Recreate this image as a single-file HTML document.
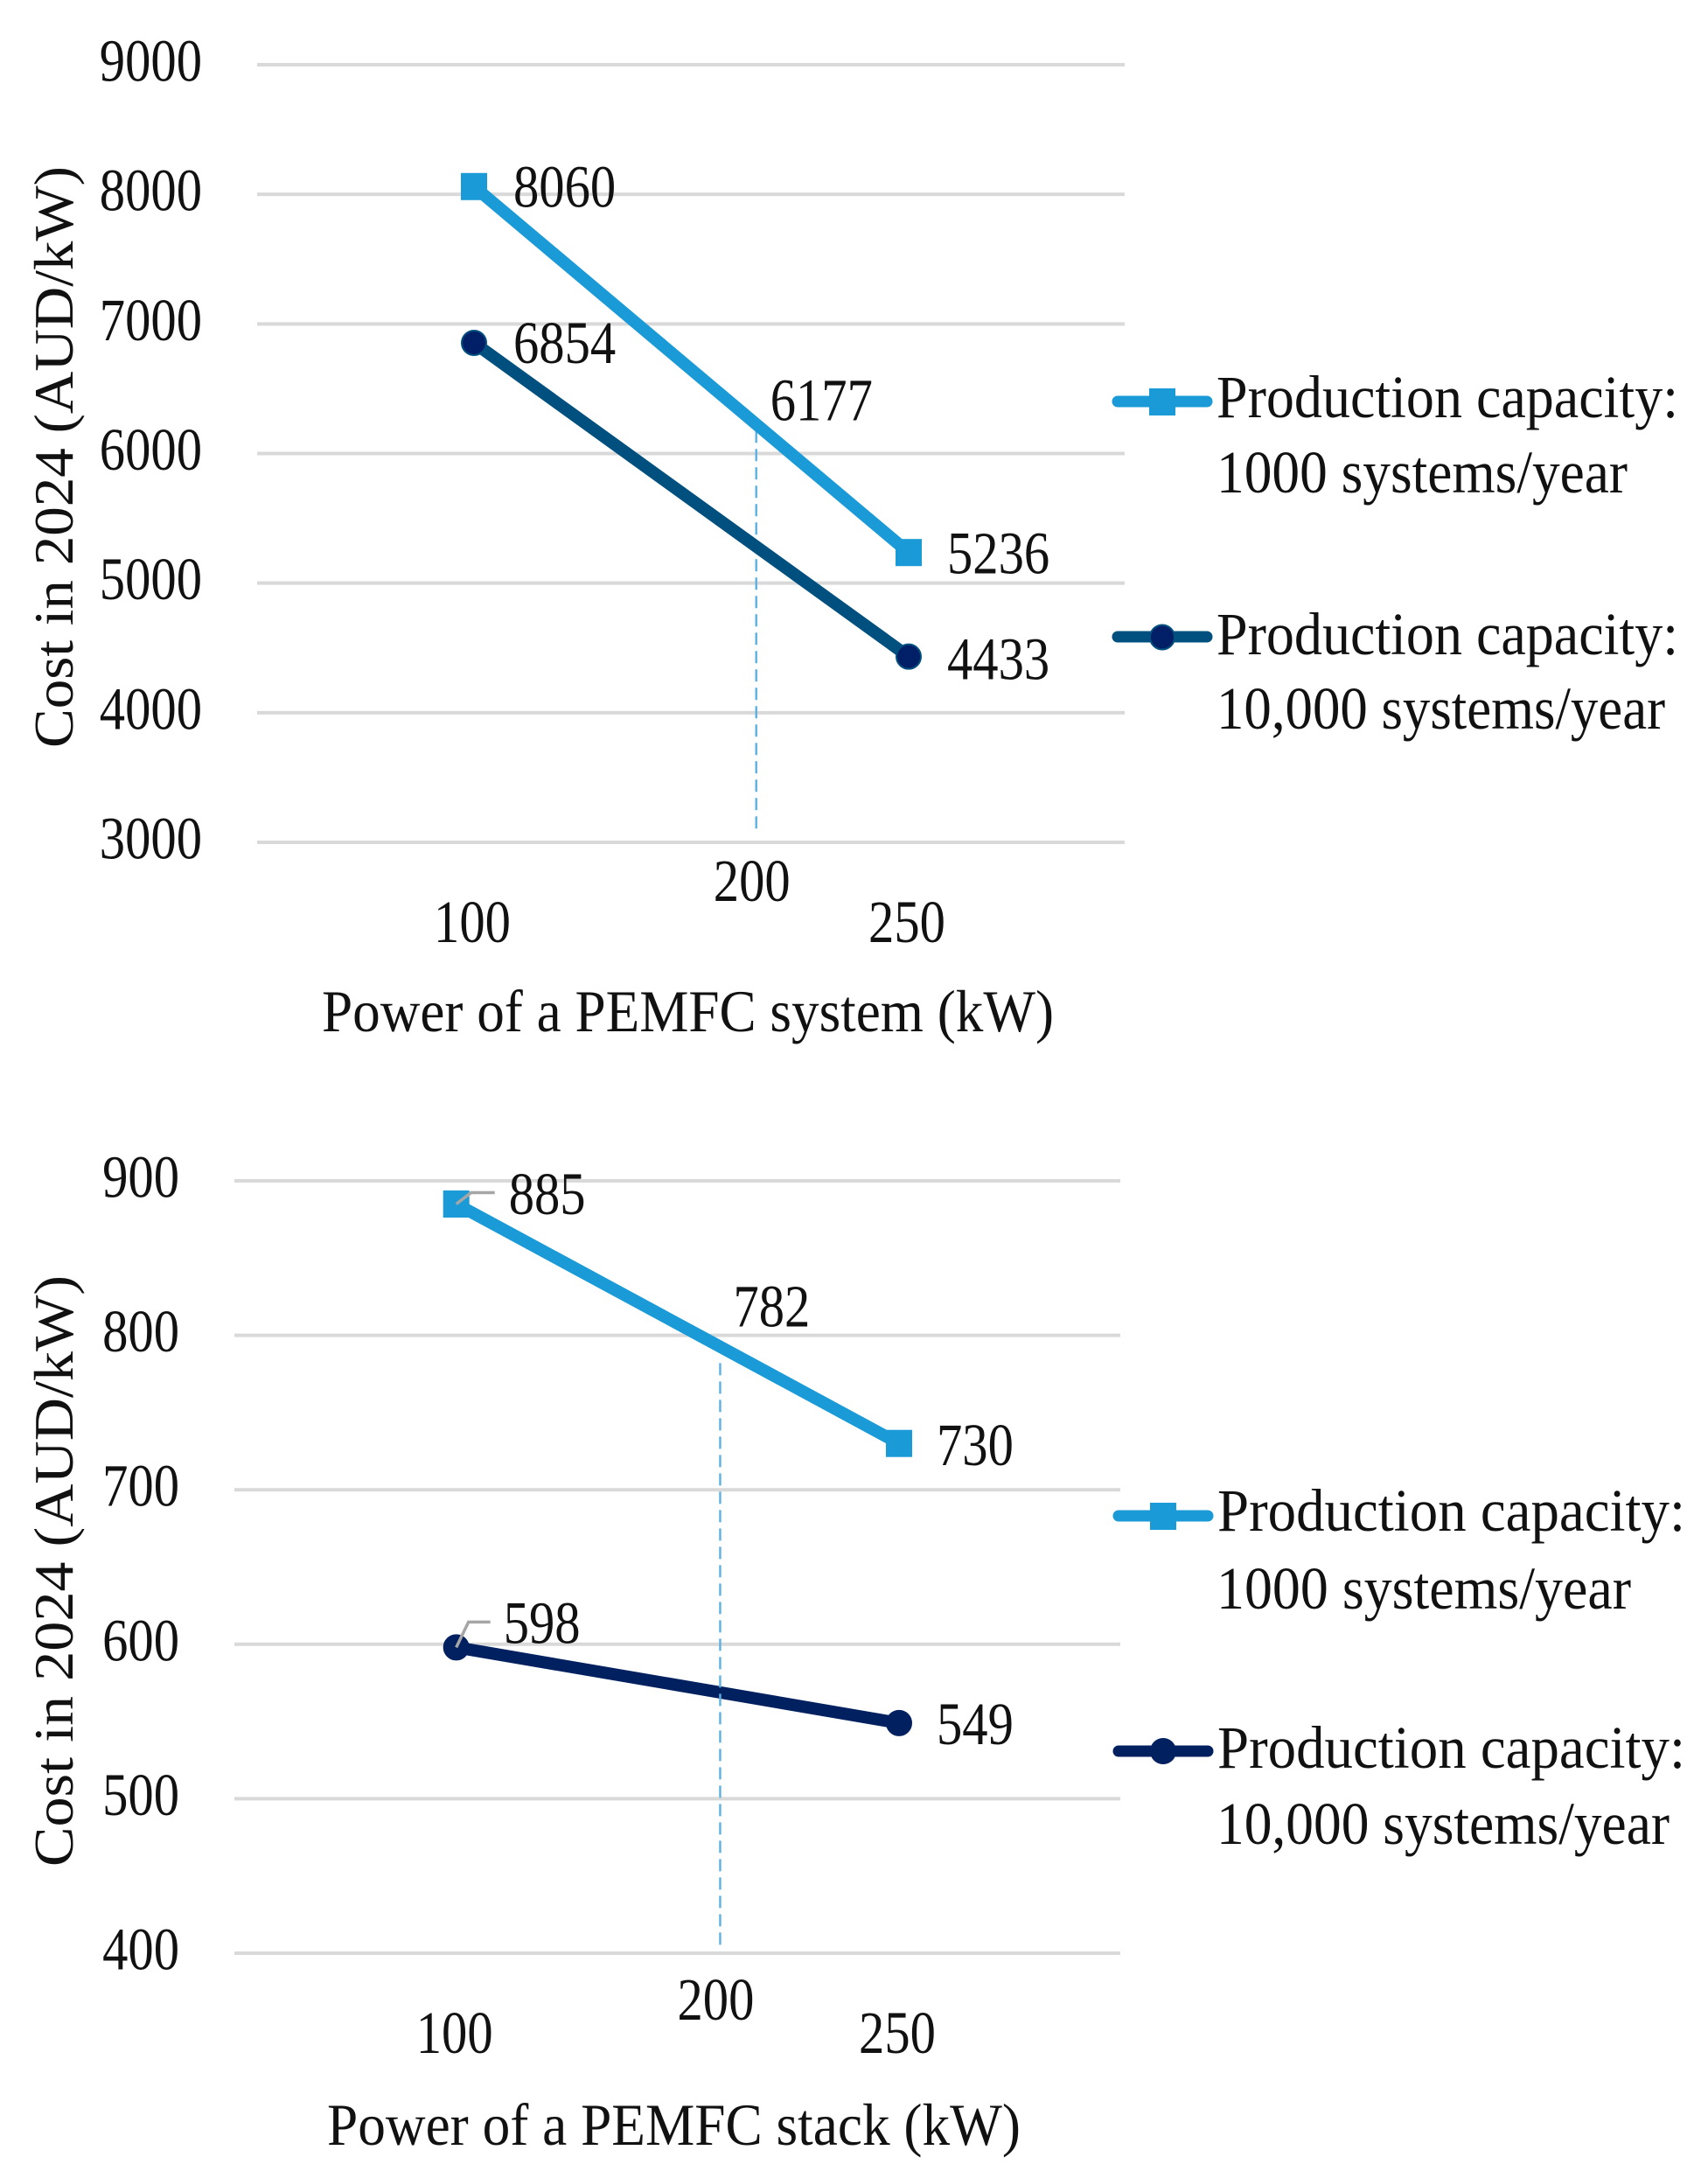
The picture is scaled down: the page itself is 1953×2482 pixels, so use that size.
<!DOCTYPE html>
<html lang="en">
<head>
<meta charset="utf-8">
<title>PEMFC system and stack cost charts</title>
<style>
  html, body { margin: 0; padding: 0; background: #ffffff; }
  svg { display: block; }
  text { font-family: "Liberation Serif", serif; fill: #111111; font-size: 69px; }
</style>
</head>
<body>
<svg id="figure" xmlns="http://www.w3.org/2000/svg" width="1953" height="2482" viewBox="0 0 1953 2482">
  <rect x="0" y="0" width="1953" height="2482" fill="#ffffff"/>
  <g id="system-chart"></g>
  <g id="stack-chart"></g>

  <text transform="translate(83,855) rotate(-90)" style="font-size:64px" textLength="665" lengthAdjust="spacingAndGlyphs">Cost in 2024 (AUD/kW)</text>
  <text x="368" y="1179" style="font-size:68px" textLength="837" lengthAdjust="spacingAndGlyphs">Power of a PEMFC system (kW)</text>
  <text transform="translate(83,2134) rotate(-90)" style="font-size:64px" textLength="676" lengthAdjust="spacingAndGlyphs">Cost in 2024 (AUD/kW)</text>
  <text x="374" y="2452" style="font-size:68px" textLength="793" lengthAdjust="spacingAndGlyphs">Power of a PEMFC stack (kW)</text>

  <g>
    <g>
      <line x1="1278" x2="1380" y1="459" y2="459" stroke="#1a9ad6" stroke-width="13" stroke-linecap="round"/>
      <rect x="1314" y="444" width="30" height="31" fill="#1a9ad6"/>
      <text x="1391" y="477" textLength="528" lengthAdjust="spacingAndGlyphs">Production capacity:</text>
      <text x="1391" y="563" textLength="470" lengthAdjust="spacingAndGlyphs">1000 systems/year</text>
    </g>
    <g>
      <line x1="1278" x2="1380" y1="728" y2="728" stroke="#00507f" stroke-width="13" stroke-linecap="round"/>
      <circle cx="1329" cy="728.5" r="14" fill="#001f66" stroke="#00507f" stroke-width="2"/>
      <text x="1391" y="748" textLength="528" lengthAdjust="spacingAndGlyphs">Production capacity:</text>
      <text x="1391" y="833" textLength="513" lengthAdjust="spacingAndGlyphs">10,000 systems/year</text>
    </g>
  </g>

  <g>
    <g>
      <line x1="1279" x2="1381" y1="1733" y2="1733" stroke="#1a9ad6" stroke-width="13" stroke-linecap="round"/>
      <rect x="1315" y="1718" width="30" height="31" fill="#1a9ad6"/>
      <text x="1392" y="1750" textLength="535" lengthAdjust="spacingAndGlyphs">Production capacity:</text>
      <text x="1391" y="1839" textLength="474" lengthAdjust="spacingAndGlyphs">1000 systems/year</text>
    </g>
    <g>
      <line x1="1279" x2="1381" y1="2002" y2="2002" stroke="#002060" stroke-width="13" stroke-linecap="round"/>
      <circle cx="1330" cy="2002" r="15" fill="#002060"/>
      <text x="1392" y="2021" textLength="535" lengthAdjust="spacingAndGlyphs">Production capacity:</text>
      <text x="1391" y="2108" textLength="518" lengthAdjust="spacingAndGlyphs">10,000 systems/year</text>
    </g>
  </g>
</svg>

<script>
// Chart data
const powerCategories = [100, 250];

const systemYTicks = [3000, 4000, 5000, 6000, 7000, 8000, 9000];
const systemLowVolume = [8060, 5236];
const systemHighVolume = [6854, 4433];
const systemReferencePower = [197.4];
const systemReferenceCost = [6177];

const stackYTicks = [400, 500, 600, 700, 800, 900];
const stackLowVolume = [885, 730];
const stackHighVolume = [598, 549];
const stackReferencePower = [189.4];
const stackReferenceCost = [782];

const xTickLabels = ['100', '250'];
const referenceTickLabel = ['200'];

const NS = 'http://www.w3.org/2000/svg';
const DIGIT_WIDTH = 29.3;

function make(tag, parent, props) {
  const el = document.createElementNS(NS, tag);
  Object.keys(props).forEach(function (k) { el.setAttribute(k, props[k]); });
  parent.appendChild(el);
  return el;
}

function makeLabel(parent, str, x, y, anchor) {
  const w = str.length * DIGIT_WIDTH;
  const left = anchor === 'middle' ? x - w / 2 : anchor === 'end' ? x - w : x;
  const el = make('text', parent, { x: left, y: y, textLength: w, lengthAdjust: 'spacingAndGlyphs' });
  el.textContent = str;
  return el;
}

// Axis scales
function linearScale(d0, d1, r0, r1) {
  return function (v) { return r0 + (v - d0) * (r1 - r0) / (d1 - d0); };
}

function drawGrid(g, ticks, y, x0, x1, labelRight) {
  ticks.forEach(function (t) {
    const line = make('line', g, { x1: x0, x2: x1, y1: y(t), y2: y(t), stroke: '#d9d9d9', 'stroke-width': 4 });
    
    
    const label = makeLabel(g, String(t), labelRight, y(t) + 18.5, 'end');
    
    
  });
}

function drawXTicks(g, x, tickY) {
  powerCategories.forEach(function (p, i) {
    const label = makeLabel(g, xTickLabels[i], x(p) - 2, tickY, 'middle');
    
    
  });
}

function drawReference(g, px, py, bottom, labelY, valueDx, valueDy) {
  const line = make('line', g, { x1: px, x2: px, y1: py, y2: bottom, stroke: '#5db1e2', 'stroke-width': 2.4, 'stroke-dasharray': '14 7' });
  
  
  return function (value) {
    const tick = makeLabel(g, referenceTickLabel[0], px - 5, labelY, 'middle');
    
    
    const val = makeLabel(g, String(value), px + valueDx, py + valueDy, 'start');
    
    
  };
}

function drawSeries(g, x, y, values, lineColor, markerColor, markerEdge, shape) {
  const pts = powerCategories.map(function (p, i) { return x(p) + ',' + y(values[i]); }).join(' ');
  const path = make('polyline', g, { points: pts, fill: 'none', stroke: lineColor, 'stroke-width': 14 });
  
  
  powerCategories.forEach(function (p, i) {
    let m;
    if (shape === 'square') {
      m = make('rect', g, { x: x(p) - 15, y: y(values[i]) - 15.5, width: 30, height: 31, fill: markerColor });
    } else {
      m = make('circle', g, { cx: x(p), cy: y(values[i]), r: 14, fill: markerColor, stroke: markerEdge, 'stroke-width': 2 });
    }
    
    
  });
}

function drawValueLabel(g, value, px, py, dx, dy) {
  const label = makeLabel(g, String(value), px + dx, py + dy, 'start');
  
  
}

function drawLeader(g, px, py, dx1, dy1, dx2) {
  const pts = px + ',' + py + ' ' + (px + dx1) + ',' + (py + dy1) + ' ' + (px + dx2) + ',' + (py + dy1);
  const leader = make('polyline', g, { points: pts, fill: 'none', stroke: '#a6a6a6', 'stroke-width': 3.5 });
  
  
}

// Top chart: PEMFC system
(function () {
  const g = document.getElementById('system-chart');
  const x = linearScale(powerCategories[0], powerCategories[1], 542, 1039);
  const y = linearScale(3000, 9000, 963, 74);
  drawGrid(g, systemYTicks, y, 294, 1286, 231);
  drawXTicks(g, x, 1077);
  const finishRef = drawReference(g, x(systemReferencePower[0]), y(systemReferenceCost[0]), 950, 1030, 16, -12);
  drawSeries(g, x, y, systemLowVolume, '#1a9ad6', '#1a9ad6', '#1a9ad6', 'square');
  drawSeries(g, x, y, systemHighVolume, '#00507f', '#001f66', '#00507f', 'circle');
  finishRef(systemReferenceCost[0]);
  drawValueLabel(g, systemLowVolume[0], x(powerCategories[0]), y(systemLowVolume[0]), 45, 23);
  drawValueLabel(g, systemLowVolume[1], x(powerCategories[1]), y(systemLowVolume[1]), 44, 24);
  drawValueLabel(g, systemHighVolume[0], x(powerCategories[0]), y(systemHighVolume[0]), 45, 23);
  drawValueLabel(g, systemHighVolume[1], x(powerCategories[1]), y(systemHighVolume[1]), 44, 26);
})();

// Bottom chart: PEMFC stack
(function () {
  const g = document.getElementById('stack-chart');
  const x = linearScale(powerCategories[0], powerCategories[1], 521.7, 1028);
  const y = linearScale(400, 900, 2233, 1350);
  drawGrid(g, stackYTicks, y, 268, 1281, 205);
  drawXTicks(g, x, 2347);
  drawSeries(g, x, y, stackLowVolume, '#1a9ad6', '#1a9ad6', '#1a9ad6', 'square');
  drawSeries(g, x, y, stackHighVolume, '#002060', '#002060', '#002060', 'circle');
  const finishRef = drawReference(g, x(stackReferencePower[0]), y(stackReferenceCost[0]), 2230, 2309, 15, -42);
  finishRef(stackReferenceCost[0]);
  drawLeader(g, x(powerCategories[0]), y(stackLowVolume[0]), 17, -13, 44);
  drawLeader(g, x(powerCategories[0]), y(stackHighVolume[0]), 14, -29, 39);
  drawValueLabel(g, stackLowVolume[0], x(powerCategories[0]), y(stackLowVolume[0]), 60, 11.5);
  drawValueLabel(g, stackLowVolume[1], x(powerCategories[1]), y(stackLowVolume[1]), 43, 25);
  drawValueLabel(g, stackHighVolume[0], x(powerCategories[0]), y(stackHighVolume[0]), 54, -5);
  drawValueLabel(g, stackHighVolume[1], x(powerCategories[1]), y(stackHighVolume[1]), 43, 24);
})();
</script>
</body>
</html>
